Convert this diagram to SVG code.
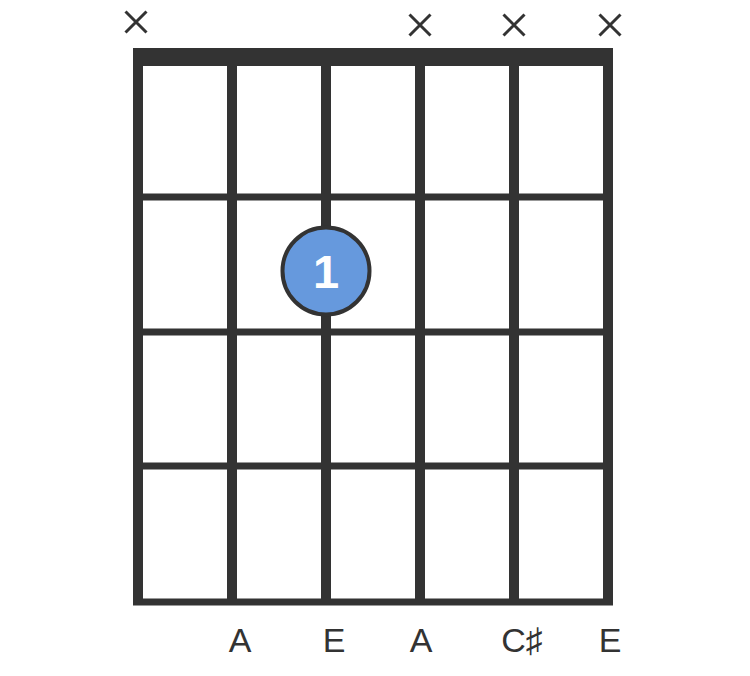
<svg xmlns="http://www.w3.org/2000/svg" width="750" height="676" viewBox="0 0 750 676">
<style>
.str{stroke:#333;stroke-width:10;fill:none}
.fret{stroke:#333;stroke-width:7;fill:none}
.x{stroke:#333;stroke-width:3;fill:none}
.lbl{font-family:"Liberation Sans","DejaVu Sans",sans-serif;font-size:34px;fill:#333;text-anchor:middle}
</style>
<rect width="750" height="676" fill="#fff"/>
<g id="grid">
<rect x="133" y="48" width="480" height="18" fill="#333"/>
<line class="fret" x1="133" y1="197" x2="613" y2="197"/>
<line class="fret" x1="133" y1="332" x2="613" y2="332"/>
<line class="fret" x1="133" y1="466" x2="613" y2="466"/>
<line class="fret" x1="133" y1="602" x2="613" y2="602"/>
<line class="str" x1="138" y1="48" x2="138" y2="605"/>
<line class="str" x1="232" y1="48" x2="232" y2="605"/>
<line class="str" x1="326" y1="48" x2="326" y2="605"/>
<line class="str" x1="420" y1="48" x2="420" y2="605"/>
<line class="str" x1="514" y1="48" x2="514" y2="605"/>
<line class="str" x1="608" y1="48" x2="608" y2="605"/>
</g>
<g id="mutes">
<path class="x" d="M125.5 11.5L146.5 32.5M146.5 11.5L125.5 32.5"/>
<path class="x" d="M409.5 14.5L430.5 35.5M430.5 14.5L409.5 35.5"/>
<path class="x" d="M503.5 14.5L524.5 35.5M524.5 14.5L503.5 35.5"/>
<path class="x" d="M599.5 14.5L620.5 35.5M620.5 14.5L599.5 35.5"/>
</g>
<g id="finger1">
<circle cx="326" cy="271" r="43.5" fill="#6699dd" stroke="#333" stroke-width="4"/>
<text x="326" y="288" font-family="'Liberation Sans', Arial, sans-serif" font-weight="bold" font-size="47" fill="#fff" text-anchor="middle">1</text>
</g>
<g id="labels">
<text class="lbl" x="240" y="652">A</text>
<text class="lbl" x="334" y="652">E</text>
<text class="lbl" x="421" y="652">A</text>
<text class="lbl" x="522" y="652">C♯</text>
<text class="lbl" x="610" y="652">E</text>
</g>
</svg>
